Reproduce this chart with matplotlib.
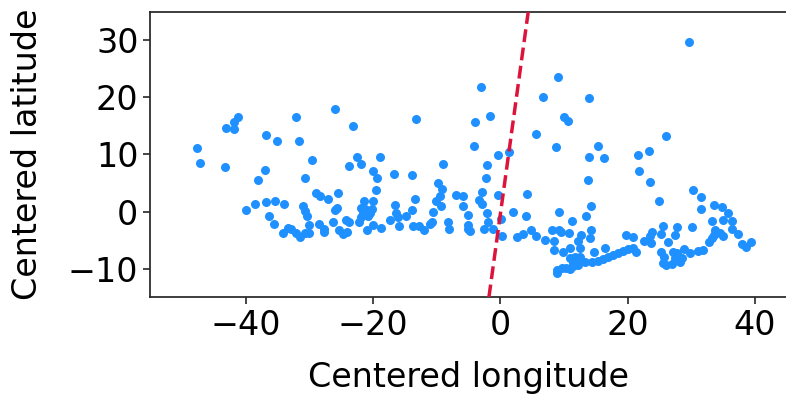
import matplotlib
matplotlib.use("Agg")
import matplotlib.pyplot as plt
import numpy as np

# Centered longitude / latitude of points
lon = [
    -41.2, -41.8, -43.0, -41.8, -32.1, -36.8, -35.0, -31.6, -47.6, -47.2, -43.2, -29.5, -37.0,
    -38.1, -30.7, -29.0, -28.3, -27.1, -39.9, -38.5, -36.8, -35.3, -33.9, -30.9, -30.7, -30.3,
    -36.3, -35.6, -30.1, -28.4, -27.7, -27.7, -34.1, -33.4, -32.8, -32.1, -31.5, -30.7, -30.0,
    -25.9, -23.2, -13.2, -4.0, -1.6, -4.1, -0.4, -22.5, -18.9, -21.8, -23.8, -9.0, -20.0, -19.3,
    -16.7, -13.9, -2.1, -2.3, -19.5, -25.4, -9.8, -9.1, -9.5, -10.1, -9.3, -7.0, -5.9, -5.9,
    -2.8, -3.4, -2.9, -0.3, -2.1, -5.1, -13.4, -13.8, -16.5, -16.4, -16.0, -14.8, -17.3, -10.5,
    -10.7, -11.0, -21.4, -20.0, -26.0, -25.7, -21.9, -21.3, -20.2, -21.5, -20.5, -21.8, -20.8,
    -22.2, -24.2, -23.7, -26.3, -25.3, -24.7, -24.0, -20.9, -20.0, -18.8, -15.9, -13.7, -12.7,
    -12.0, -8.2, -8.0, -5.1, -5.0, -2.6, -1.1,
    1.3, 8.75, -4.8, -1.9, 0.1, 0.3, 2.0, 4.2, 4.0, 2.6, 3.6, 4.9, 5.6, 7.1, 8.2, 8.5, 8.4, 8.9,
    9.3, 9.3,
    -3.0, 9.0, 6.7, 13.9, 10.05, 10.7, 5.65, 15.35, 14.0, 16.3, 21.7,
    23.4, 21.8, 23.5, 13.8, 24.9, 14.25, 13.4, 11.2, 9.5, 10.8, 12.25, 12.7, 14.25, 14.1, 9.9,
    10.95, 12.5, 14.8, 16.4, 10.95, 11.7, 12.5, 11.5, 12.25, 13.3, 14.35, 15.4, 16.2, 17.0,
    17.75, 18.5, 19.3, 20.1, 20.9, 21.3, 19.75, 20.9, 22.5, 23.5, 23.8, 23.6, 8.9, 9.65, 10.4,
    10.9, 11.5,
    26.1, 30.2, 31.6, 31.6, 33.5, 34.9, 35.7, 33.3, 35.0, 36.35, 36.35, 30.1, 33.8, 34.5, 35.0,
    33.5, 33.2, 32.8, 37.3, 37.9, 38.6, 39.3, 25.5, 25.2, 27.7, 27.4, 26.3, 25.2, 25.7, 25.6,
    26.1, 26.9, 27.2, 27.7, 27.4, 28.5, 28.9, 28.2, 29.8, 31.1, 31.9, 29.7,
]
lat = [
    16.6, 15.6, 14.6, 14.5, 16.5, 13.4, 12.4, 12.3, 11.2, 8.5, 7.8, 9.0, 7.2,
    5.5, 5.9, 3.3, 2.8, 2.2, 0.3, 1.4, 1.6, 1.9, 1.3, 1.0, 0.1, -0.75,
    -0.75, -2.2, -2.3, -2.2, -3.0, -3.5, -3.8, -2.9, -3.0, -3.7, -4.4, -3.8, -3.8,
    17.9, 15.0, 16.2, 15.7, 16.7, 11.4, 9.9, 9.6, 9.5, 8.3, 7.9, 8.3, 7.1, 5.8,
    6.6, 6.4, 8.2, 5.8, 3.8, 3.3, 5.0, 4.0, 2.8, 1.9, 1.0, 2.9, 2.8, 1.05,
    3.4, 2.0, 1.3, 2.9, -0.3, -0.6, 2.2, 0.3, 1.2, -0.2, -1.0, -0.8, -1.5, 0.0,
    -1.75, -2.15, 1.9, 1.9, 0.3, 0.6, 0.7, 0.5, 0.5, -0.3, -0.3, -0.9, -0.75,
    -1.9, -1.45, -1.75, -1.9, -3.3, -3.9, -3.6, -3.2, -2.3, -2.85, -2.6, -2.5, -2.5,
    -3.2, -1.75, -3.0, -2.3, -3.1, -3.1, -3.1,
    10.4, 11.3, -3.4, -1.9, -1.3, -4.25, 0.0, 3.0, -0.75, -4.5, -3.95, -3.2, -4.2, -4.95, -3.2, -5.1, -6.7, -10.7,
    0.0, -3.2,
    21.8, 23.55, 20.1, 19.8, 16.6, 15.9, 13.6, 11.4, 9.6, 9.45, 9.9,
    10.6, 7.1, 5.1, 5.5, 1.9, 0.9, -0.7, -1.6, -3.5, -3.8, -5.1, -4.1, -3.2, -4.65, -7.0,
    -6.4, -6.4, -7.05, -6.3, -8.15, -8.0, -7.9, -9.0, -9.3, -8.75, -8.75, -8.6, -8.3, -8.0,
    -7.6, -7.3, -6.9, -6.6, -6.3, -7.0, -4.1, -4.5, -5.1, -4.25, -3.5, -5.5, -10.2, -9.9, -9.9,
    -10.1, -9.6,
    13.2, 3.7, 2.5, 0.4, 1.2, 0.8, -0.3, -1.6, -1.45, -1.6, -3.0, -2.7, -3.2, -3.8, -4.25,
    -4.1, -4.65, -5.4, -4.0, -5.65, -6.2, -5.4, -2.6, -3.9, -2.7, -4.1, -5.35, -7.05, -7.9, -9.0,
    -9.3, -9.1, -7.0, -7.3, -8.15, -8.15, -6.5, -8.75, -7.3, -6.9, -6.7, 29.6,
]

# Dashed reference line: lat = slope * lon + intercept
line_slope = 8.09
line_intercept = -0.6

x_ticks = [-40, -20, 0, 20, 40]
y_ticks = [-10, 0, 10, 20, 30]
x_limits = (-55, 45)
y_limits = (-15, 35)

W, H, DPI = 786, 399, 100
fig = plt.figure(figsize=(W / DPI, H / DPI), dpi=DPI)
ax = fig.add_axes([150 / W, (H - 297.3) / H, (786.8 - 150) / W, (297.3 - 11.5) / H])

ax.scatter(lon, lat, s=42, color="#1E90FF", linewidths=0, zorder=2)

line_y = np.array(y_limits, dtype=float)
line_x = (line_y - line_intercept) / line_slope
ax.plot(line_x, line_y, color="#DC143C", linestyle="--", linewidth=2.5, zorder=3)

ax.set_xlim(*x_limits)
ax.set_ylim(*y_limits)
ax.set_xticks(x_ticks)
ax.set_yticks(y_ticks)
ax.tick_params(labelsize=24, length=4.8, width=1.2, color="#262626")
for sp in ax.spines.values():
    sp.set_linewidth(1.25)
    sp.set_color("#262626")
ax.set_xlabel("Centered longitude", fontsize=24, labelpad=14)
ax.set_ylabel("Centered latitude", fontsize=24, labelpad=17)

fig.savefig("out.png", dpi=DPI)
